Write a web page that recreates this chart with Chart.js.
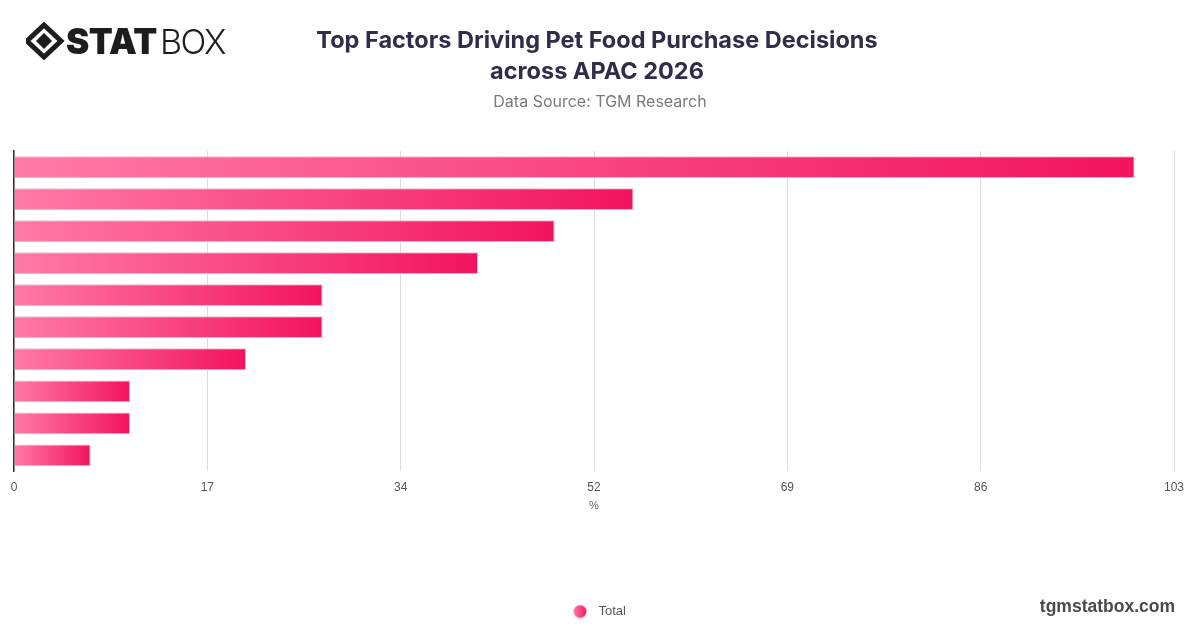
<!DOCTYPE html>
<html>
<head>
<meta charset="utf-8">
<script src="https://cdn.jsdelivr.net/npm/chart.js@4.4.0/dist/chart.umd.min.js"></script>
<style>
  html, body { margin:0; padding:0; background:#fff; }
  #wrap { position:relative; width:1200px; height:628px; overflow:hidden; }
  #c { position:absolute; left:0; top:0; }
  .title { position:absolute; left:0; width:1194px; text-align:center; font-family:Inter, "Noto Sans", sans-serif; font-weight:700; color:#302d4a; font-size:23.5px; letter-spacing:0px; line-height:31px; }
  .sub { position:absolute; left:0; width:1200px; top:90px; text-align:center; font-family:Inter, "Noto Sans", sans-serif; font-weight:400; color:#7a7a7a; font-size:16px; line-height:22px; }
  .site { position:absolute; right:25px; top:595px; font-family:"Liberation Sans", Arial, sans-serif; font-weight:700; color:#4a4a4a; font-size:17.5px; line-height:22px; }
  .logo { position:absolute; left:26px; top:22px; }
</style>
</head>
<body>
<div id="wrap">
  <canvas id="c" width="1200" height="628"></canvas>
  <svg class="logo" width="210" height="38" viewBox="0 0 210 38">
    <polygon points="18,3 35,19 18,35 1,19" fill="none" stroke="#1d1d1d" stroke-width="5" stroke-linejoin="miter"/>
    <polygon points="18,11 26,19 18,27 10,19" fill="#1d1d1d"/>
    <text x="40" y="32" font-family="Inter, 'DejaVu Sans', sans-serif" font-weight="900" font-size="35" fill="#1d1d1d" letter-spacing="-0.5">STAT</text>
    <text x="134" y="32" font-family="Inter, 'DejaVu Sans', sans-serif" font-weight="300" font-size="34" fill="#1d1d1d" letter-spacing="-1.5">BOX</text>
  </svg>
  <div class="title" style="top:24px">Top Factors Driving Pet Food Purchase Decisions</div>
  <div class="title" style="top:55px">across APAC 2026</div>
  <div class="sub">Data Source: TGM Research</div>
  <div class="site">tgmstatbox.com</div>
</div>
<script>
const categories = ["Factor 1","Factor 2","Factor 3","Factor 4","Factor 5","Factor 6","Factor 7","Factor 8","Factor 9","Factor 10"];
const totalValues = [99.5, 55, 48, 41.2, 27.4, 27.4, 20.6, 10.3, 10.3, 6.8];
const seriesName = "Total";
const axisMax = 103;
const tickCount = 7;

function barGradient(context) {
  const chart = context.chart;
  const xs = chart.scales.x;
  if (!xs || context.type !== 'data') return '#f8407f';
  const v = totalValues[context.dataIndex];
  const x0 = xs.getPixelForValue(0);
  const x1 = xs.getPixelForValue(v);
  if (!isFinite(x0) || !isFinite(x1) || x1 - x0 < 1) return '#f8407f';
  const g = chart.ctx.createLinearGradient(x0, 0, x1, 0);
  g.addColorStop(0, '#ff7aa6');
  g.addColorStop(1, '#f2135f');
  return g;
}

// legend marker: gradient circle drawn into a small canvas
const markerW = 38;
const marker = document.createElement('canvas');
marker.width = markerW; marker.height = 14;
(function () {
  const m = marker.getContext('2d');
  const cx = 26, cy = 7, r = 6.5;
  const g = m.createLinearGradient(cx - r, 0, cx + r, 0);
  g.addColorStop(0, '#ff79a5');
  g.addColorStop(1, '#f21a63');
  m.fillStyle = g;
  m.beginPath(); m.arc(cx, cy, r, 0, Math.PI * 2); m.fill();
})();

new Chart(document.getElementById('c'), {
  type: 'bar',
  data: {
    labels: categories,
    datasets: [{
      label: seriesName,
      data: totalValues,
      backgroundColor: barGradient,
      borderColor: '#ffb3cb',
      borderWidth: 1,
      borderSkipped: 'left',
      barPercentage: 0.8,
      categoryPercentage: 0.85
    }]
  },
  options: {
    indexAxis: 'y',
    responsive: false,
    animation: false,
    devicePixelRatio: 1,
    layout: { padding: { left: 6, right: 26, top: 151, bottom: 0 } },
    scales: {
      x: {
        min: 0,
        max: axisMax,
        afterBuildTicks: (scale) => {
          const t = [];
          for (let i = 0; i < tickCount; i++) t.push({ value: axisMax * i / (tickCount - 1) });
          scale.ticks = t;
        },
        ticks: {
          callback: (v) => Math.round(v),
          color: '#555',
          padding: 9,
          maxRotation: 0,
          font: { family: '"Liberation Sans", Arial, sans-serif', size: 12 }
        },
        grid: { color: '#dcdcdc', drawTicks: false, lineWidth: 1 },
        border: { display: false },
        title: {
          display: true,
          text: '%',
          color: '#666',
          font: { family: '"Liberation Sans", Arial, sans-serif', size: 11 },
          padding: { top: -4, bottom: 82 }
        }
      },
      y: {
        ticks: { display: false },
        grid: { display: false },
        border: { display: true, color: '#333', width: 1.5 }
      }
    },
    plugins: {
      legend: {
        position: 'bottom',
        labels: {
          usePointStyle: true,
          pointStyleWidth: markerW,
          boxHeight: 9,
          padding: 10,
          color: '#555',
          font: { family: '"Liberation Sans", Arial, sans-serif', size: 13 },
          generateLabels: (chart) => [{
            text: seriesName,
            fillStyle: '#fa4a86',
            strokeStyle: '#fa4a86',
            lineWidth: 0,
            pointStyle: marker,
            hidden: false,
            datasetIndex: 0,
            fontColor: '#555'
          }]
        }
      },
      tooltip: { enabled: false }
    }
  }
});
</script>
</body>
</html>
